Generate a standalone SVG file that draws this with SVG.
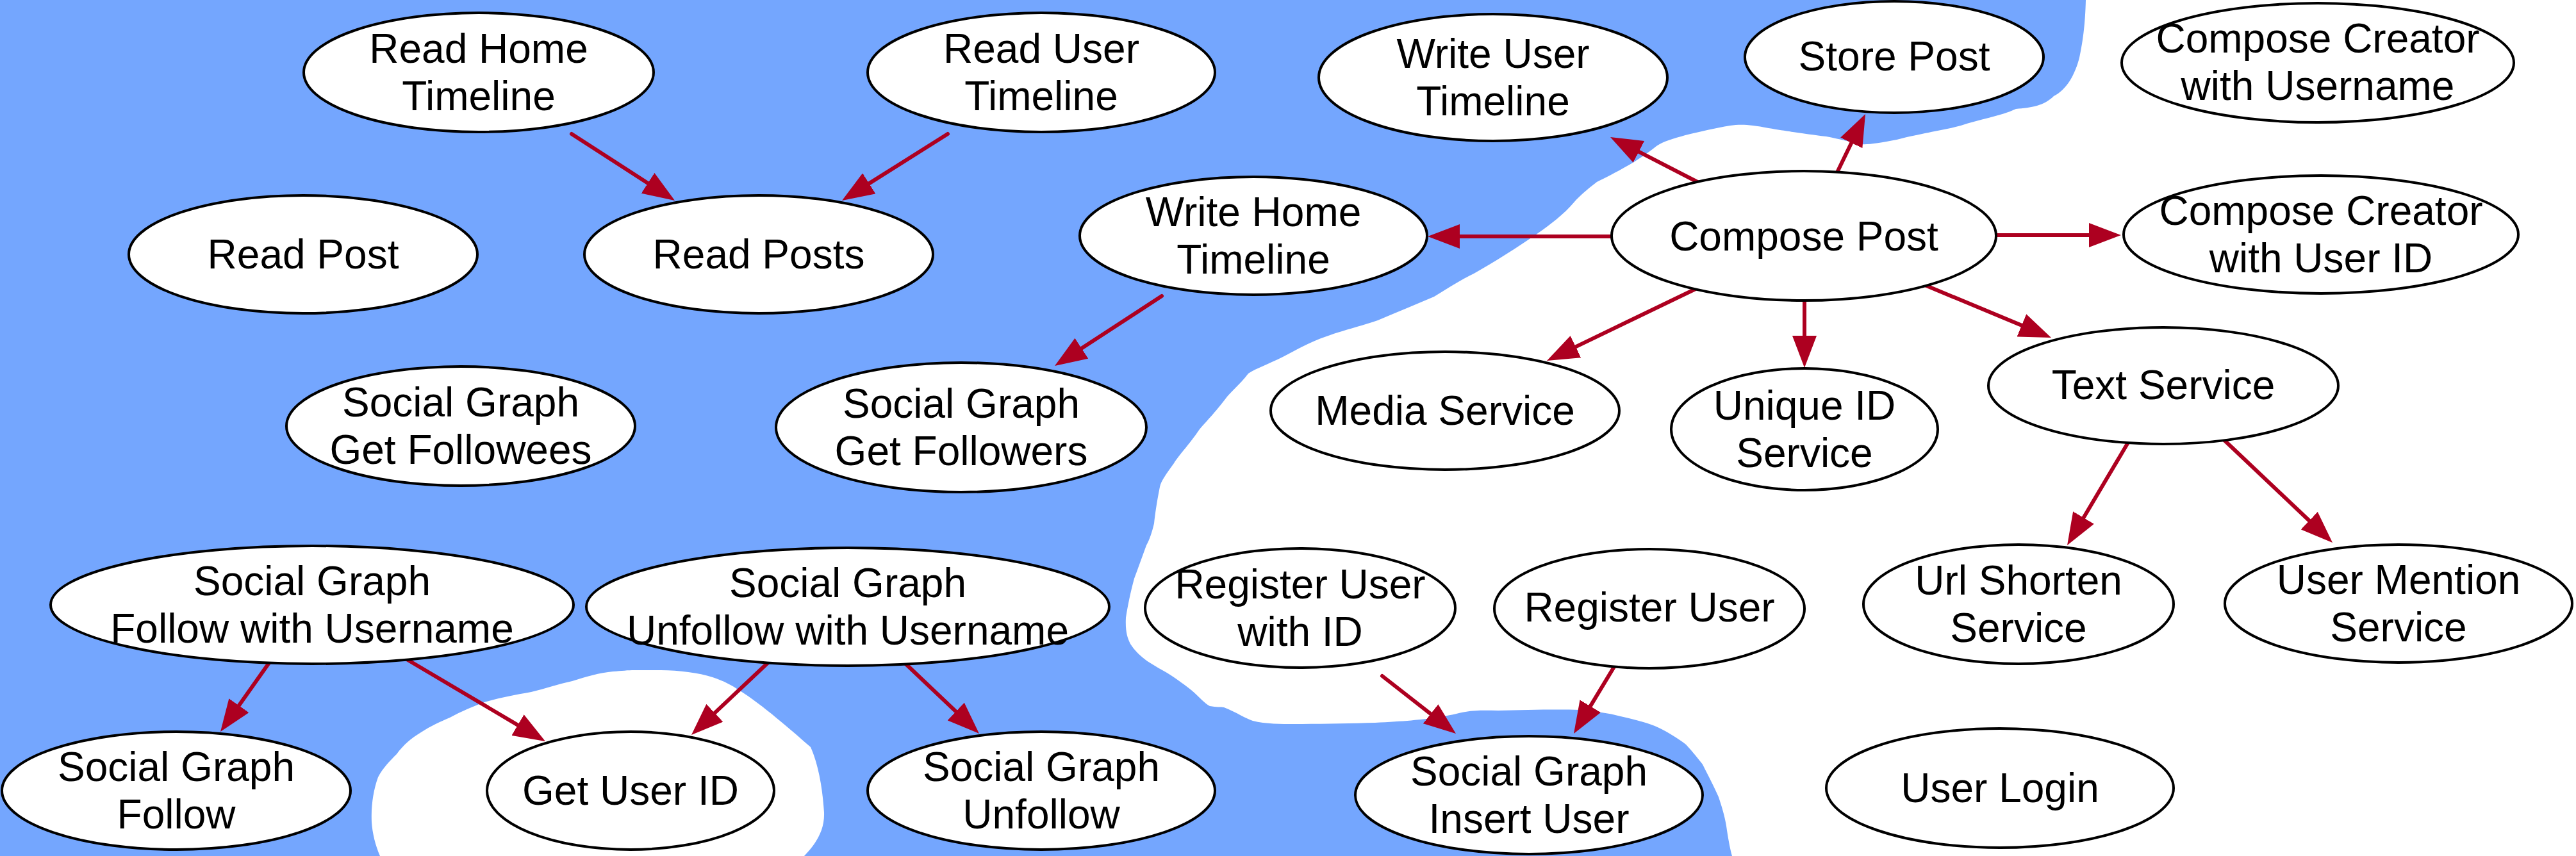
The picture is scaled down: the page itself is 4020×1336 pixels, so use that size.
<svg xmlns="http://www.w3.org/2000/svg" width="4020" height="1336" viewBox="0 0 4020 1336">
<style>
.node ellipse{fill:#fff;stroke:#000;stroke-width:4}
.node text{font-family:"Liberation Sans",Arial,sans-serif;font-size:64px;fill:#000;text-anchor:middle}
.edges line{stroke:#AD0020;stroke-width:6;stroke-linecap:round}
</style>
<defs>
<marker id="arr" viewBox="0 0 50 38" refX="2" refY="19" markerWidth="50" markerHeight="38" markerUnits="userSpaceOnUse" orient="auto">
<path d="M0,0 L50,19 L0,38 z" fill="#AD0020"/>
</marker>
</defs>
<g id="background">
<rect x="0" y="0" width="4020" height="1336" fill="#fff"/>
<path fill="#74A6FE" d="M0,0 L3255,0 C3254,40 3250,67 3245,90 C3238,117 3225,140 3205,150 C3190,165 3170,168 3146,170 C3120,182 3089,186 3060,196 C3030,204 3003,207 2960,218 C2934,223 2915,226 2905,225 C2890,222 2871,217 2850,213 C2820,209 2802,207 2760,200 C2730,194 2716,194 2700,196 C2676,200 2655,205 2630,211 C2612,216 2595,221 2585,228 C2570,240 2555,250 2543,257 C2520,270 2505,278 2492,284 C2475,297 2465,306 2457,315 C2440,335 2420,350 2400,364 C2370,385 2330,410 2300,427 C2279,437 2260,450 2238,463 C2210,475 2180,487 2150,500 C2120,510 2091,517 2070,525 C2046,533 2025,545 2002,557 C1980,568 1960,575 1948,583 C1935,600 1920,612 1912,623 C1895,645 1885,655 1872,670 C1855,695 1840,710 1832,723 C1820,740 1812,750 1810,760 C1805,785 1803,800 1801,817 C1798,830 1794,842 1789,851 C1782,870 1775,890 1770,903 C1764,925 1760,945 1757,964 C1756,985 1759,995 1764,1005 C1775,1022 1790,1032 1802,1039 C1810,1044 1816,1047 1821,1050 C1840,1062 1850,1070 1859,1077 C1872,1088 1880,1098 1888,1102 C1898,1104 1905,1103 1910,1104 C1930,1112 1945,1122 1955,1125 C1975,1130 2000,1130 2019,1130 C2060,1130 2110,1129 2146,1128 C2190,1126 2220,1123 2242,1120 C2262,1117 2275,1113 2287,1111 C2305,1108 2320,1109 2338,1109 C2380,1108 2430,1107 2465,1108 C2490,1110 2510,1113 2529,1118 C2555,1124 2578,1130 2593,1138 C2610,1147 2622,1155 2631,1162 C2643,1175 2650,1184 2657,1193 C2668,1215 2676,1230 2682,1244 C2689,1265 2693,1280 2695,1296 C2698,1315 2700,1325 2703,1336 L0,1336 Z"/>
<path fill="#fff" d="M593,1336 C586,1320 581,1300 580,1283 C579,1260 582,1235 590,1213 C598,1198 608,1188 619,1177 C630,1162 642,1152 657,1143 C672,1133 688,1126 702,1120 C720,1110 738,1103 753,1097 C775,1090 800,1085 829,1080 C850,1075 870,1068 893,1063 C915,1056 935,1050 957,1048 C970,1047 980,1046 990,1046 L1031,1046 C1060,1046 1090,1050 1112,1057 C1130,1063 1143,1070 1153,1077 C1190,1100 1235,1140 1265,1166 C1278,1195 1284,1235 1286,1268 C1287,1295 1275,1315 1255,1336 Z"/>
</g>
<g id="edges" class="edges">
<line x1="892" y1="209" x2="1012.7" y2="286.9" marker-end="url(#arr)"/>
<line x1="1479" y1="209" x2="1354.6" y2="287.4" marker-end="url(#arr)"/>
<line x1="2651" y1="285" x2="2555.7" y2="235.9" marker-end="url(#arr)"/>
<line x1="2866" y1="271" x2="2890.1" y2="221.2" marker-end="url(#arr)"/>
<line x1="2515" y1="369" x2="2276" y2="369" marker-end="url(#arr)"/>
<line x1="3115" y1="367" x2="3262" y2="367" marker-end="url(#arr)"/>
<line x1="2646" y1="451" x2="2457.2" y2="542.1" marker-end="url(#arr)"/>
<line x1="2816" y1="467" x2="2816" y2="526" marker-end="url(#arr)"/>
<line x1="3004" y1="445" x2="3156.7" y2="508.6" marker-end="url(#arr)"/>
<line x1="1813" y1="462" x2="1686.2" y2="544.8" marker-end="url(#arr)"/>
<line x1="3322" y1="689" x2="3250.5" y2="809.7" marker-end="url(#arr)"/>
<line x1="3469" y1="685" x2="3605.2" y2="814" marker-end="url(#arr)"/>
<line x1="2157" y1="1055" x2="2234.2" y2="1115.4" marker-end="url(#arr)"/>
<line x1="2520" y1="1039" x2="2480.8" y2="1103.9" marker-end="url(#arr)"/>
<line x1="421" y1="1033" x2="371.7" y2="1102.8" marker-end="url(#arr)"/>
<line x1="633" y1="1028" x2="809.7" y2="1132.6" marker-end="url(#arr)"/>
<line x1="1202" y1="1031" x2="1113.9" y2="1114.1" marker-end="url(#arr)"/>
<line x1="1408" y1="1031" x2="1493.2" y2="1111.9" marker-end="url(#arr)"/>
</g>
<g id="read_home_timeline" class="node"><ellipse cx="747" cy="113" rx="273" ry="93"/><text x="747" y="98">Read Home</text><text x="747" y="172">Timeline</text></g>
<g id="read_user_timeline" class="node"><ellipse cx="1625" cy="113" rx="271" ry="93"/><text x="1625" y="98">Read User</text><text x="1625" y="172">Timeline</text></g>
<g id="read_post" class="node"><ellipse cx="473" cy="397" rx="272" ry="92"/><text x="473" y="419">Read Post</text></g>
<g id="read_posts" class="node"><ellipse cx="1184" cy="397" rx="272" ry="92"/><text x="1184" y="419">Read Posts</text></g>
<g id="sg_get_followees" class="node"><ellipse cx="719" cy="665" rx="272" ry="93"/><text x="719" y="650">Social Graph</text><text x="719" y="724">Get Followees</text></g>
<g id="sg_get_followers" class="node"><ellipse cx="1500" cy="667" rx="289" ry="101"/><text x="1500" y="652">Social Graph</text><text x="1500" y="726">Get Followers</text></g>
<g id="write_user_timeline" class="node"><ellipse cx="2330" cy="121" rx="272" ry="99"/><text x="2330" y="106">Write User</text><text x="2330" y="180">Timeline</text></g>
<g id="store_post" class="node"><ellipse cx="2956" cy="89" rx="233" ry="87"/><text x="2956" y="110">Store Post</text></g>
<g id="compose_creator_username" class="node"><ellipse cx="3617" cy="98" rx="306" ry="93"/><text x="3617" y="82">Compose Creator</text><text x="3617" y="156">with Username</text></g>
<g id="write_home_timeline" class="node"><ellipse cx="1956" cy="368" rx="271" ry="92"/><text x="1956" y="353">Write Home</text><text x="1956" y="427">Timeline</text></g>
<g id="compose_post" class="node"><ellipse cx="2815" cy="368" rx="300" ry="101"/><text x="2815" y="391">Compose Post</text></g>
<g id="compose_creator_userid" class="node"><ellipse cx="3622" cy="366" rx="308" ry="92"/><text x="3622" y="351">Compose Creator</text><text x="3622" y="425">with User ID</text></g>
<g id="media_service" class="node"><ellipse cx="2255" cy="641" rx="272" ry="92"/><text x="2255" y="663">Media Service</text></g>
<g id="unique_id_service" class="node"><ellipse cx="2816" cy="670" rx="208" ry="95"/><text x="2816" y="655">Unique ID</text><text x="2816" y="729">Service</text></g>
<g id="text_service" class="node"><ellipse cx="3376" cy="602" rx="273" ry="91"/><text x="3376" y="623">Text Service</text></g>
<g id="url_shorten_service" class="node"><ellipse cx="3150" cy="943" rx="242" ry="93"/><text x="3150" y="928">Url Shorten</text><text x="3150" y="1002">Service</text></g>
<g id="user_mention_service" class="node"><ellipse cx="3743" cy="942" rx="271" ry="92"/><text x="3743" y="927">User Mention</text><text x="3743" y="1001">Service</text></g>
<g id="register_user_with_id" class="node"><ellipse cx="2029" cy="949" rx="242" ry="93"/><text x="2029" y="934">Register User</text><text x="2029" y="1008">with ID</text></g>
<g id="register_user" class="node"><ellipse cx="2574" cy="950" rx="242" ry="93"/><text x="2574" y="970">Register User</text></g>
<g id="sg_follow_username" class="node"><ellipse cx="487" cy="944" rx="408" ry="92"/><text x="487" y="929">Social Graph</text><text x="487" y="1003">Follow with Username</text></g>
<g id="sg_unfollow_username" class="node"><ellipse cx="1323" cy="947" rx="408" ry="92"/><text x="1323" y="932">Social Graph</text><text x="1323" y="1006">Unfollow with Username</text></g>
<g id="sg_follow" class="node"><ellipse cx="275" cy="1234" rx="272" ry="92"/><text x="275" y="1219">Social Graph</text><text x="275" y="1293">Follow</text></g>
<g id="get_user_id" class="node"><ellipse cx="984" cy="1234" rx="224" ry="92"/><text x="984" y="1256">Get User ID</text></g>
<g id="sg_unfollow" class="node"><ellipse cx="1625" cy="1234" rx="271" ry="92"/><text x="1625" y="1219">Social Graph</text><text x="1625" y="1293">Unfollow</text></g>
<g id="sg_insert_user" class="node"><ellipse cx="2386" cy="1241" rx="271" ry="92"/><text x="2386" y="1226">Social Graph</text><text x="2386" y="1300">Insert User</text></g>
<g id="user_login" class="node"><ellipse cx="3121" cy="1230" rx="271" ry="93"/><text x="3121" y="1252">User Login</text></g>
</svg>
